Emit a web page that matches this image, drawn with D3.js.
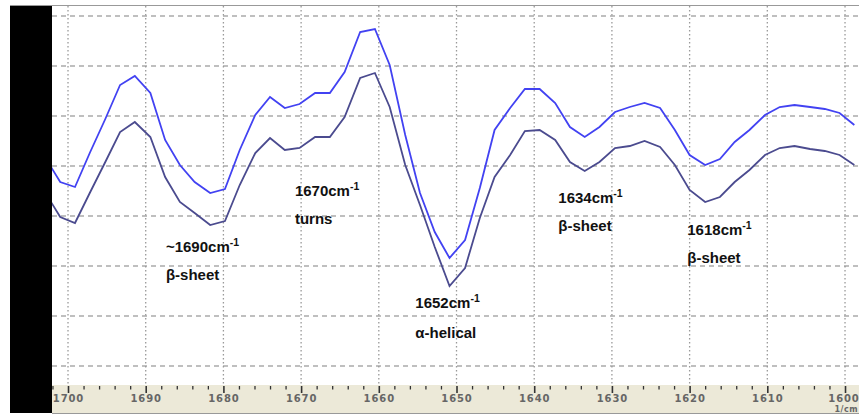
<!DOCTYPE html>
<html>
<head>
    <title>Second derivative FTIR, amide I</title>
    <script src="https://d3js.org/d3.v7.min.js"></script>
    <style>
        body, html {
            margin: 0;
            padding: 0;
            background: #fff;
        }
        svg { display: block; }
        .note { font-family: Arial, "Liberation Sans", sans-serif; font-weight: bold; font-size: 15px; fill: #111; }
        .tick-label { font-family: "DejaVu Sans", Verdana, sans-serif; font-weight: bold; font-size: 10px; fill: #666; letter-spacing: 0.9px; }
    </style>
</head>
<body>
    <div id="chart"></div>

    <script>
        // wavenumbers (cm-1) of the spectrum points
        var wavenumbers = [1702.9, 1701.0, 1699.1, 1697.2, 1695.2, 1693.3, 1691.4, 1689.4, 1687.5, 1685.6,
            1683.7, 1681.7, 1679.8, 1677.9, 1675.9, 1674.0, 1672.1, 1670.2, 1668.2, 1666.3,
            1664.4, 1662.4, 1660.5, 1658.6, 1656.6, 1654.7, 1652.8, 1650.9, 1648.9, 1647.0,
            1645.1, 1643.1, 1641.2, 1639.3, 1637.3, 1635.4, 1633.5, 1631.6, 1629.6, 1627.7,
            1625.8, 1623.8, 1621.9, 1620.0, 1618.0, 1616.1, 1614.2, 1612.3, 1610.3, 1608.4,
            1606.5, 1604.5, 1602.6, 1600.7, 1598.8];

        // upper trace (blue)
        var upperTrace = [4.16, 3.68, 3.58, 4.26, 4.94, 5.62, 5.80, 5.46, 4.52, 4.02,
            3.68, 3.46, 3.54, 4.32, 5.02, 5.38, 5.16, 5.24, 5.46, 5.46,
            5.88, 6.68, 6.74, 6.02, 4.62, 3.46, 2.68, 2.16, 2.52, 3.56,
            4.72, 5.16, 5.54, 5.54, 5.26, 4.78, 4.58, 4.78, 5.08, 5.18,
            5.26, 5.16, 4.72, 4.22, 4.02, 4.14, 4.48, 4.72, 5.02, 5.18,
            5.22, 5.18, 5.14, 5.06, 4.82];

        // lower trace (dark)
        var lowerTrace = [3.46, 2.98, 2.86, 3.46, 4.08, 4.68, 4.88, 4.58, 3.78, 3.28,
            3.06, 2.82, 2.90, 3.62, 4.26, 4.56, 4.32, 4.36, 4.58, 4.58,
            4.98, 5.76, 5.86, 5.18, 4.02, 3.22, 2.38, 1.60, 1.96, 2.96,
            3.78, 4.22, 4.70, 4.72, 4.52, 4.08, 3.90, 4.08, 4.36, 4.40,
            4.50, 4.38, 4.02, 3.52, 3.28, 3.38, 3.68, 3.92, 4.22, 4.36,
            4.40, 4.34, 4.30, 4.22, 4.02];

        var majorTicks = [1700, 1690, 1680, 1670, 1660, 1650, 1640, 1630, 1620, 1610, 1600];
        var gridLevels = [0, 1, 2, 3, 4, 5, 6, 7];

        // band assignments
        var noteText = ["~1690cm", "1670cm", "1652cm", "1634cm", "1618cm"];
        var noteKind = ["\u03B2-sheet", "turns", "\u03B1-helical", "\u03B2-sheet", "\u03B2-sheet"];
        var noteAt = [1687.4, 1670.8, 1655.3, 1636.9, 1620.3];
        var noteLevel = [2.28, 3.40, 1.16, 3.26, 2.62];
        var kindLevel = [1.72, 2.84, 0.56, 2.70, 2.06];

        var W = 859, H = 416;
        var plotLeft = 52, plotRight = 859, plotTop = 5, plotBottom = 385, bandBottom = 413;

        var svg = d3.select("#chart").append("svg")
            .attr("width", W)
            .attr("height", H);

        var x = d3.scaleLinear().domain([1702.06, 1598.2]).range([plotLeft, plotRight]);
        var y = d3.scaleLinear().domain([-0.38, 7.22]).range([plotBottom, plotTop]);

        // black strip on the left and frame
        svg.append("rect").attr("x", 10).attr("y", plotTop).attr("width", plotLeft - 10).attr("height", bandBottom - plotTop).attr("fill", "#000");
        svg.append("line").attr("x1", 10).attr("x2", W).attr("y1", plotTop + 0.5).attr("y2", plotTop + 0.5)
            .attr("stroke", "#999").attr("stroke-width", 1.2);

        // axis band
        svg.append("rect").attr("x", plotLeft).attr("y", plotBottom).attr("width", plotRight - plotLeft).attr("height", bandBottom - plotBottom)
            .attr("fill", "#ece9d8");
        svg.append("line").attr("x1", plotLeft).attr("x2", W).attr("y1", bandBottom + 0.5).attr("y2", bandBottom + 0.5)
            .attr("stroke", "#999").attr("stroke-width", 1);

        // grid
        var grid = svg.append("g");
        grid.selectAll("line.h").data(gridLevels).join("line")
            .attr("class", "h")
            .attr("x1", plotLeft).attr("x2", plotRight)
            .attr("y1", function(d) { return y(d); }).attr("y2", function(d) { return y(d); })
            .attr("stroke", "#aaa").attr("stroke-width", 1.4).attr("stroke-dasharray", "5,4");
        grid.selectAll("line.v").data(majorTicks).join("line")
            .attr("class", "v")
            .attr("x1", function(d) { return x(d); }).attr("x2", function(d) { return x(d); })
            .attr("y1", plotTop + 1).attr("y2", plotBottom)
            .attr("stroke", "#999").attr("stroke-width", 1.3).attr("stroke-dasharray", "1.5,2.5");

        // axis ticks and labels
        var axis = d3.axisBottom(x)
            .tickValues(d3.range(1600, 1703, 2))
            .tickSize(0)
            .tickFormat("");
        var axisG = svg.append("g").attr("transform", "translate(0," + plotBottom + ")").call(axis);
        axisG.select(".domain").remove();
        axisG.selectAll(".tick line")
            .attr("y1", 1)
            .attr("y2", function(d) { return d % 10 === 0 ? 8 : 4.5; })
            .attr("stroke", "#333")
            .attr("stroke-width", function(d) { return d % 10 === 0 ? 1.6 : 1.3; });

        svg.append("g").selectAll("text").data(majorTicks).join("text")
            .attr("class", "tick-label")
            .attr("x", function(d) { return Math.min(x(d) + 0.5, W - 15); })
            .attr("y", plotBottom + 17)
            .attr("text-anchor", "middle")
            .text(function(d) { return d; });
        svg.append("text")
            .attr("class", "tick-label")
            .attr("x", W - 1)
            .attr("y", plotBottom + 26.5)
            .attr("text-anchor", "end")
            .style("font-size", "8px")
            .style("letter-spacing", "0.5px")
            .text("1/cm");

        // traces
        svg.append("clipPath").attr("id", "plot-clip")
            .append("rect").attr("x", plotLeft).attr("y", plotTop).attr("width", plotRight - plotLeft).attr("height", plotBottom - plotTop);

        var line = d3.line()
            .x(function(d) { return x(d[0]); })
            .y(function(d) { return y(d[1]); });

        var traces = svg.append("g").attr("clip-path", "url(#plot-clip)");
        traces.append("path")
            .datum(d3.zip(wavenumbers, lowerTrace))
            .attr("d", line)
            .attr("fill", "none")
            .attr("stroke", "#4b4b8f")
            .attr("stroke-width", 1.8);
        traces.append("path")
            .datum(d3.zip(wavenumbers, upperTrace))
            .attr("d", line)
            .attr("fill", "none")
            .attr("stroke", "#4242f2")
            .attr("stroke-width", 1.8);

        // band annotations
        var notes = svg.append("g");
        noteText.forEach(function(t, i) {
            var label = notes.append("text")
                .attr("class", "note")
                .attr("x", x(noteAt[i]))
                .attr("y", y(noteLevel[i]));
            label.append("tspan").text(t);
            label.append("tspan")
                .attr("dy", -6)
                .style("font-size", "10.5px")
                .text("-1");
            notes.append("text")
                .attr("class", "note")
                .attr("x", x(noteAt[i]))
                .attr("y", y(kindLevel[i]))
                .text(noteKind[i]);
        });
    </script>
</body>
</html>
